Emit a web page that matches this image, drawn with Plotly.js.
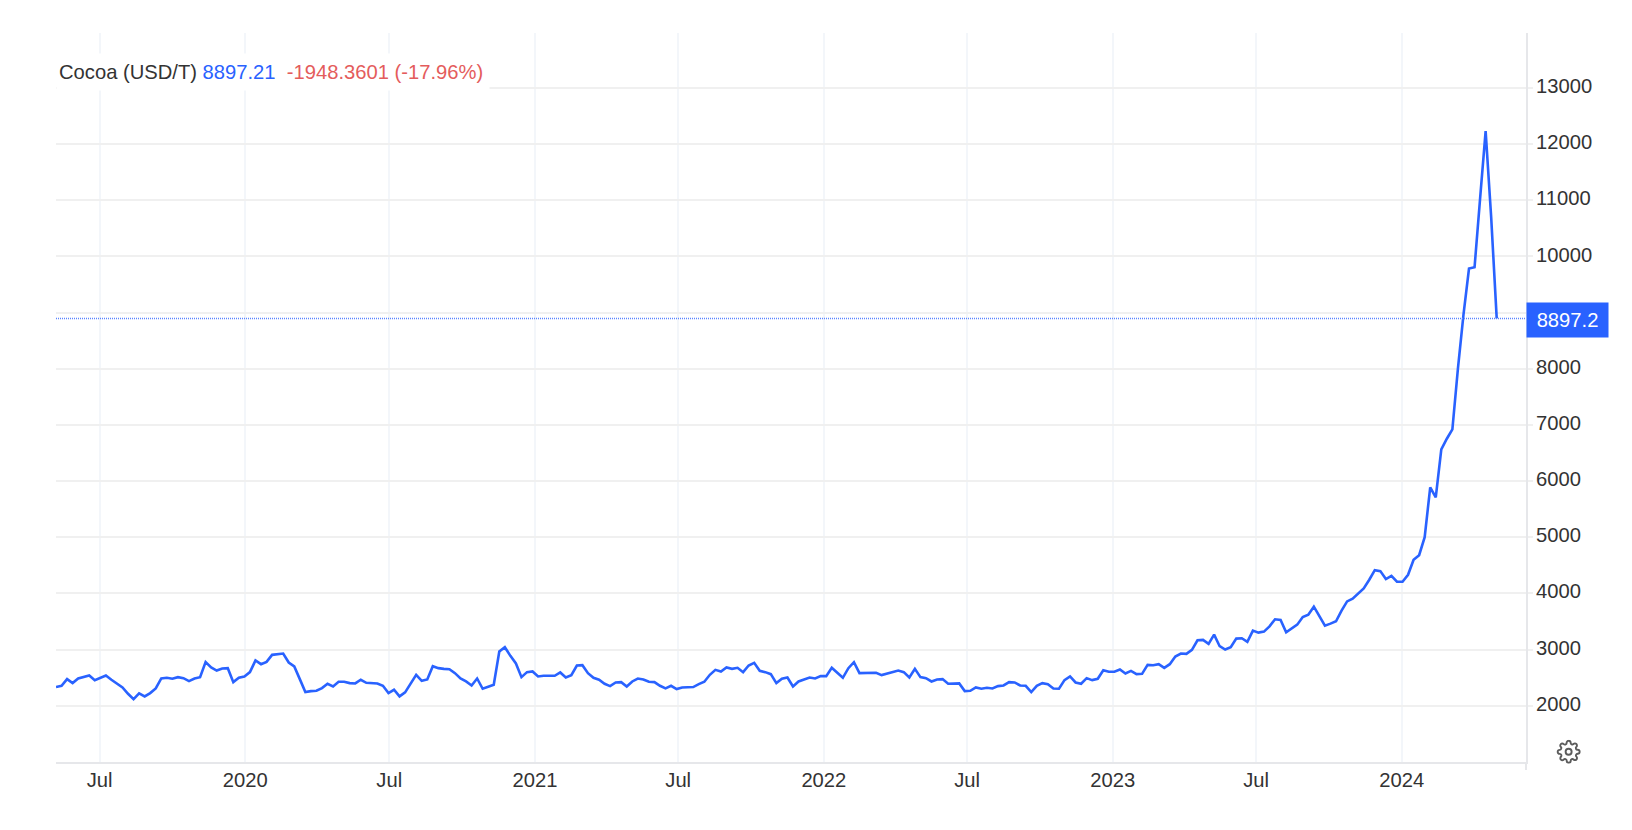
<!DOCTYPE html>
<html>
<head>
<meta charset="utf-8">
<script src="https://cdn.plot.ly/plotly-3.0.1.min.js"></script>
<style>
    html, body { margin: 0; padding: 0; background: #fff; }
</style>
</head>
<body>
<div id="plot" style="width:1632px;height:830px"></div>
<script>
// weekly closes
const first_week = "2019-05-07";
const prices = [
    2332, 2355, 2474, 2403, 2485, 2515, 2539, 2456, 2497, 2539, 2462, 2391, 2326, 2213, 2118, 2219, 2166, 2225,
    2308, 2485, 2497, 2480, 2509, 2491, 2438, 2485, 2509, 2776, 2681, 2627, 2663, 2669, 2420, 2497, 2521, 2598,
    2805, 2740, 2781, 2906, 2912, 2929, 2770, 2699, 2474, 2243, 2260, 2266, 2314, 2391, 2343, 2426, 2426, 2403,
    2397, 2462, 2408, 2403, 2397, 2355, 2225, 2284, 2166, 2237, 2403, 2551, 2444, 2468, 2704, 2669, 2657, 2651,
    2580, 2485, 2432, 2361, 2485, 2302, 2337, 2373, 2965, 3042, 2888, 2752, 2509, 2598, 2610, 2521, 2533, 2533,
    2533, 2592, 2503, 2545, 2716, 2722, 2580, 2497, 2462, 2391, 2349, 2414, 2420, 2343, 2432, 2485,
    2468, 2426, 2420, 2355, 2308, 2355, 2296, 2326, 2332, 2332, 2385, 2426, 2551, 2639, 2610, 2681, 2657, 2675,
    2598, 2716, 2764, 2622, 2598, 2562, 2403, 2480, 2503, 2343, 2432, 2462, 2503, 2485, 2527, 2527, 2675, 2586,
    2497, 2669, 2776, 2580, 2580, 2592, 2586, 2545, 2568, 2604, 2627, 2598, 2503, 2657, 2509, 2491,
    2432, 2468, 2474, 2391, 2391, 2397, 2260, 2266, 2326, 2302, 2320, 2308, 2349, 2361, 2420, 2414, 2361, 2355,
    2243, 2355, 2403, 2385, 2308, 2302, 2456, 2521, 2414, 2391, 2491, 2456, 2480, 2633, 2604, 2604, 2645, 2574,
    2621, 2562, 2568, 2728, 2722, 2740, 2675, 2740, 2876, 2929, 2923, 2995, 3166, 3172, 3101, 3267, 3060,
    3000, 3041, 3195, 3201, 3136, 3337, 3302, 3320, 3414, 3539, 3527, 3308, 3373, 3444, 3580, 3622, 3764, 3592,
    3426, 3462, 3503, 3693, 3858, 3906, 3995, 4089, 4243, 4415, 4397, 4255, 4314, 4208, 4208, 4332, 4598, 4681,
    5001, 5889, 5711, 6564, 6754, 6921, 8002, 8960, 9784, 9808, 11031, 12231, 10700, 8897.21
];
const x_tick_dates = ["2019-07-01", "2020-01-01", "2020-07-01", "2021-01-01", "2021-07-01",
    "2022-01-01", "2022-07-01", "2023-01-01", "2023-07-01", "2024-01-01"];
const x_tick_labels = ["Jul", "2020", "Jul", "2021", "Jul", "2022", "Jul", "2023", "Jul", "2024"];
const y_ticks = [2000, 3000, 4000, 5000, 6000, 7000, 8000, 9000, 10000, 11000, 12000, 13000];
const last_price = 8897.21;
const last_label = "8897.2";
const change_label = "-1948.3601 (-17.96%)";

const blue = "#2962ff";
const red = "#e45c5c";
const text_color = "#333333";
const font_family = "Liberation Sans, Arial, sans-serif";

// one point per week from the first one on
let weeks = [];
for (let i = 0; i < prices.length; i++) {
    let d = new Date(first_week + "T00:00:00Z");
    d.setUTCDate(d.getUTCDate() + i * 7);
    weeks.push(d.toISOString().slice(0, 10));
}

const gear = "data:image/svg+xml;utf8," + encodeURIComponent(
    '<svg xmlns="http://www.w3.org/2000/svg" viewBox="0 0 24 24" width="24" height="24" fill="none" stroke="#5c5c5c" stroke-width="1.9">' +
    '<path d="M12 15a3 3 0 1 0 0-6 3 3 0 0 0 0 6z"/>' +
    '<path d="M19.4 15a1.65 1.65 0 0 0 .33 1.82l.06.06a2 2 0 0 1 0 2.83 2 2 0 0 1-2.83 0l-.06-.06a1.65 1.65 0 0 0-1.82-.33 1.65 1.65 0 0 0-1 1.51V21a2 2 0 0 1-2 2 2 2 0 0 1-2-2v-.09A1.65 1.65 0 0 0 9 19.4a1.65 1.65 0 0 0-1.82.33l-.06.06a2 2 0 0 1-2.83 0 2 2 0 0 1 0-2.83l.06-.06a1.65 1.65 0 0 0 .33-1.82 1.65 1.65 0 0 0-1.51-1H3a2 2 0 0 1-2-2 2 2 0 0 1 2-2h.09A1.65 1.65 0 0 0 4.6 9a1.65 1.65 0 0 0-.33-1.82l-.06-.06a2 2 0 0 1 0-2.83 2 2 0 0 1 2.83 0l.06.06a1.65 1.65 0 0 0 1.82.33H9a1.65 1.65 0 0 0 1-1.51V3a2 2 0 0 1 2-2 2 2 0 0 1 2 2v.09a1.65 1.65 0 0 0 1 1.51 1.65 1.65 0 0 0 1.82-.33l.06-.06a2 2 0 0 1 2.83 0 2 2 0 0 1 0 2.83l-.06.06a1.65 1.65 0 0 0-.33 1.82V9a1.65 1.65 0 0 0 1.51 1H21a2 2 0 0 1 2 2 2 2 0 0 1-2 2h-.09a1.65 1.65 0 0 0-1.51 1z"/>' +
    '</svg>');

let data = [{
    x: weeks,
    y: prices,
    type: "scatter",
    mode: "lines",
    line: {color: blue, width: 2.6},
    hoverinfo: "skip",
}];

let layout = {
    width: 1632,
    height: 830,
    margin: {l: 56, r: 106, t: 33, b: 68, pad: 0},
    paper_bgcolor: "#ffffff",
    plot_bgcolor: "#ffffff",
    showlegend: false,
    font: {family: font_family, size: 20.2, color: text_color},
    xaxis: {
        type: "date",
        range: ["2019-05-07", "2024-06-06"],
        tickmode: "array",
        tickvals: x_tick_dates,
        ticktext: x_tick_labels,
        tickangle: 0,
        ticks: "",
        ticklabelstandoff: -1,
        showgrid: true,
        gridcolor: "#f3f6fa",
        gridwidth: 2,
        zeroline: false,
        showline: true,
        linecolor: "#e6e7ea",
        linewidth: 2,
    },
    yaxis: {
        side: "right",
        range: [998, 13979],
        tickmode: "array",
        tickvals: y_ticks,
        tickformat: "d",
        ticklabelshift: -2,
        ticklabelstandoff: -1,
        ticks: "outside",
        ticklen: 5,
        tickcolor: "#f0f0f0",
        tickwidth: 2,
        showgrid: true,
        gridcolor: "#f0f0f0",
        gridwidth: 2,
        zeroline: false,
        showline: true,
        linecolor: "#e6e7ea",
        linewidth: 2,
    },
    shapes: [
        // dotted line at the last price
        {
            type: "line", xref: "paper", yref: "y", x0: 0, x1: 1, y0: last_price, y1: last_price,
            line: {color: "#5b85ff", width: 1.5, dash: "1px,1px"},
        },
        // right axis runs on a bit below the x axis
        {
            type: "line", xref: "paper", yref: "paper", x0: 1, x1: 1, y0: 0, y1: -0.011,
            line: {color: "#e6e7ea", width: 2},
        },
    ],
    annotations: [
        {
            xref: "paper", yref: "paper", x: 0, y: 0.947, xanchor: "left", yanchor: "middle",
            align: "left", showarrow: false, bgcolor: "#ffffff", borderpad: 2,
            width: 428, height: 32,
            text: "Cocoa (USD/T) <span style=\"color:" + blue + "\">" + last_price + "</span>" +
                "&nbsp; <span style=\"color:" + red + "\">" + change_label + "</span>",
        },
        {
            xref: "paper", yref: "y", x: 1, y: last_price, xanchor: "left", yanchor: "middle",
            showarrow: false, bgcolor: blue, borderpad: 0, width: 81, height: 34, yshift: -2,
            font: {color: "#ffffff", size: 20.2},
            text: last_label,
        },
    ],
    images: [{
        source: gear,
        xref: "paper", yref: "paper", x: 1.029, y: 0.014,
        sizex: 0.0168, sizey: 0.033, xanchor: "center", yanchor: "middle",
        sizing: "contain", layer: "above",
    }],
};

Plotly.newPlot("plot", data, layout, {staticPlot: true});
</script>
</body>
</html>
